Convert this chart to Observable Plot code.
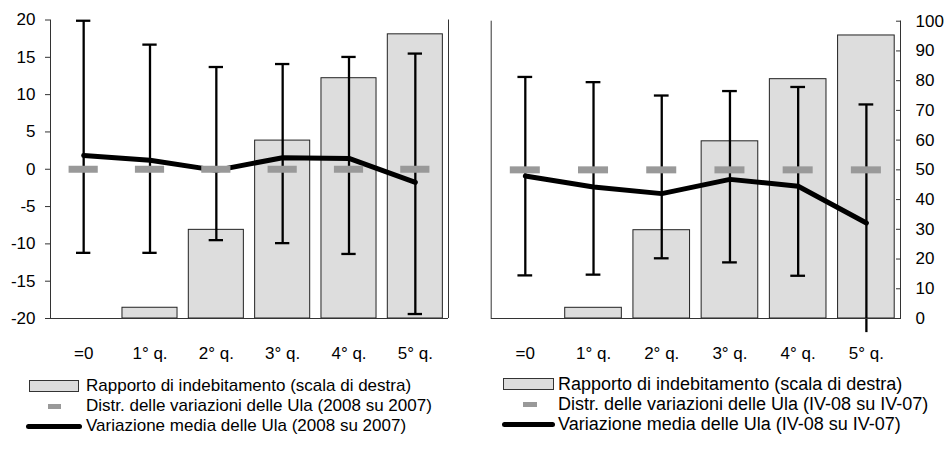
<!DOCTYPE html>
<html><head><meta charset="utf-8">
<script src="https://cdn.jsdelivr.net/npm/d3@7"></script>
<script src="https://cdn.jsdelivr.net/npm/@observablehq/plot@0.6"></script>
<style>
body{margin:0;background:#fff;font-family:"Liberation Sans",Arial,sans-serif;}
#wrap{position:relative;width:945px;height:451px;overflow:hidden;background:#fff}
.panel{position:absolute;top:0}
.lt{position:absolute;color:#000;white-space:nowrap;line-height:20px;height:20px}
.sw{position:absolute;box-sizing:border-box}
</style></head><body><div id="wrap"></div>
<script>
// categories (quintiles of firms)
const categories = ["=0", "1° q.", "2° q.", "3° q.", "4° q.", "5° q."];
// Rapporto di indebitamento (right scale, 0-100) — same in both panels
const ratio = [0, 3.6, 29.7, 59.6, 80.5, 95.2];
// Left panel: 2008 su 2007 (left scale, %)
const leftMean = [1.85, 1.2, -0.15, 1.55, 1.45, -1.75];
const leftHi = [19.9, 16.7, 13.7, 14.1, 15.05, 15.5];
const leftLo = [-11.2, -11.2, -9.5, -9.9, -11.35, -19.4];
// Right panel: IV-08 su IV-07 (same % scale, shown against 0-100 right axis)
const rightMean = [-0.84, -2.3, -3.2, -1.28, -2.2, -7.16];
const rightHi = [12.5, 11.8, 10.0, 10.6, 11.15, 8.8];
const rightLo = [-14.2, -14.1, -11.9, -12.45, -14.25, -21.9];
// Distribution marker (median of variations)
const distr = [0, 0, 0, 0, 0, 0];
// tick labels
const leftTicks = [-20, -15, -10, -5, 0, 5, 10, 15, 20];
const rightTicks = [0, 10, 20, 30, 40, 50, 60, 70, 80, 90, 100];
const legendLeft = ["Rapporto di indebitamento (scala di destra)", "Distr. delle variazioni delle Ula (2008 su 2007)", "Variazione media delle Ula (2008 su 2007)"];
const legendRight = ["Rapporto di indebitamento (scala di destra)", "Distr. delle variazioni delle Ula (IV-08 su IV-07)", "Variazione media delle Ula (IV-08 su IV-07)"];

const wrap = document.getElementById("wrap");
const style = {fontFamily: '"Liberation Sans", Arial, sans-serif', fontSize: "17px", color: "#000", background: "transparent", overflow: "visible"};
const catPos = categories.map((c, i) => i + 0.5);
const pad = 0.085, cap = 0.108, dash = 0.22;

function rowsFor(mean, hi, lo) {
  return categories.map((c, i) => ({c, i, ratio: ratio[i], mean: mean[i], hi: hi[i], lo: lo[i], distr: distr[i]}));
}

function panelMarks(rows, conv, yMin, yMax) {
  return [
    Plot.rectY(rows, {x1: d => d.i + pad, x2: d => d.i + 1 - pad, y1: yMin, y2: d => d.barY, fill: "#dddddd", stroke: "#222", strokeWidth: 1}),
    Plot.ruleX(rows, {x: d => d.i + 0.5, y1: d => conv(d.lo), y2: d => conv(d.hi), stroke: "#000", strokeWidth: 2.3}),
    Plot.ruleY(rows, {x1: d => d.i + 0.5 - cap, x2: d => d.i + 0.5 + cap, y: d => conv(d.hi), stroke: "#000", strokeWidth: 2.3}),
    Plot.ruleY(rows.filter(d => conv(d.lo) >= yMin), {x1: d => d.i + 0.5 - cap, x2: d => d.i + 0.5 + cap, y: d => conv(d.lo), stroke: "#000", strokeWidth: 2.3}),
    Plot.line(rows, {x: d => d.i + 0.5, y: d => conv(d.mean), stroke: "#000", strokeWidth: 5, strokeLinejoin: "round"}),
    Plot.ruleY(rows, {x1: d => d.i + 0.5 - dash, x2: d => d.i + 0.5 + dash, y: d => conv(d.distr), stroke: "#999", strokeWidth: 7}),
    Plot.ruleY([yMin], {stroke: "#333"}),
    Plot.ruleX([0, categories.length], {y1: yMin, y2: yMax, stroke: "#333"}),
    Plot.axisX({anchor: "bottom", ticks: catPos, tickSize: 0, tickPadding: 28, tickFormat: v => categories[Math.floor(v)]})
  ];
}

// Left panel
const lRows = rowsFor(leftMean, leftHi, leftLo).map(d => ({...d, barY: d.ratio * 0.4 - 20}));
const leftPlot = Plot.plot({
  width: 470, height: 372, marginLeft: 50, marginRight: 22, marginTop: 19.5, marginBottom: 54,
  x: {domain: [0, categories.length]},
  y: {domain: [-20, 20]},
  style,
  marks: [
    ...panelMarks(lRows, v => v, -20, 20),
    Plot.axisY({anchor: "left", ticks: leftTicks, tickSize: 5, tickPadding: 10, tickFormat: d => String(d), stroke: "#333"})
  ]
});
leftPlot.classList.add("panel");
leftPlot.style.left = "0px";
wrap.appendChild(leftPlot);

// Right panel
const rRows = rowsFor(rightMean, rightHi, rightLo).map(d => ({...d, barY: d.ratio}));
const rightPlot = Plot.plot({
  width: 475, height: 372, marginLeft: 20.7, marginRight: 45, marginTop: 20.7, marginBottom: 54,
  x: {domain: [0, categories.length]},
  y: {domain: [0, 100]},
  style,
  marks: [
    ...panelMarks(rRows, v => v / 0.4 + 50, 0, 100),
    Plot.axisY({anchor: "right", ticks: rightTicks, tickSize: -5, tickPadding: 20, tickFormat: d => String(d), stroke: "#333"})
  ]
});
rightPlot.classList.add("panel");
rightPlot.style.left = "470px";
wrap.appendChild(rightPlot);

// Legends
function legend(texts, g) {
  texts.forEach((t, k) => {
    const cy = g.rows[k];
    const sw = document.createElement("div");
    sw.className = "sw";
    if (k === 0) {
      Object.assign(sw.style, {left: g.rect[0] + "px", width: g.rect[1] + "px", top: (cy - 6) + "px", height: "12px", background: "#dddddd", border: "1px solid #333"});
    } else if (k === 1) {
      Object.assign(sw.style, {left: g.dash[0] + "px", width: g.dash[1] + "px", top: (cy - 2.5) + "px", height: "5px", background: "#999"});
    } else {
      Object.assign(sw.style, {left: g.line[0] + "px", width: g.line[1] + "px", top: (cy - 2.5) + "px", height: "5px", background: "#000", borderRadius: "2.5px"});
    }
    wrap.appendChild(sw);
    const tx = document.createElement("div");
    tx.className = "lt";
    tx.textContent = t;
    Object.assign(tx.style, {left: g.text + "px", top: (cy - 10) + "px", fontSize: g.font + "px"});
    wrap.appendChild(tx);
  });
}
legend(legendLeft, {rows: [386, 406, 426], rect: [29, 50], dash: [48, 13], line: [26, 56], text: 86, font: 17});
legend(legendRight, {rows: [384, 404, 424], rect: [503, 51], dash: [523, 14], line: [502, 53], text: 558, font: 18});
</script></body></html>
